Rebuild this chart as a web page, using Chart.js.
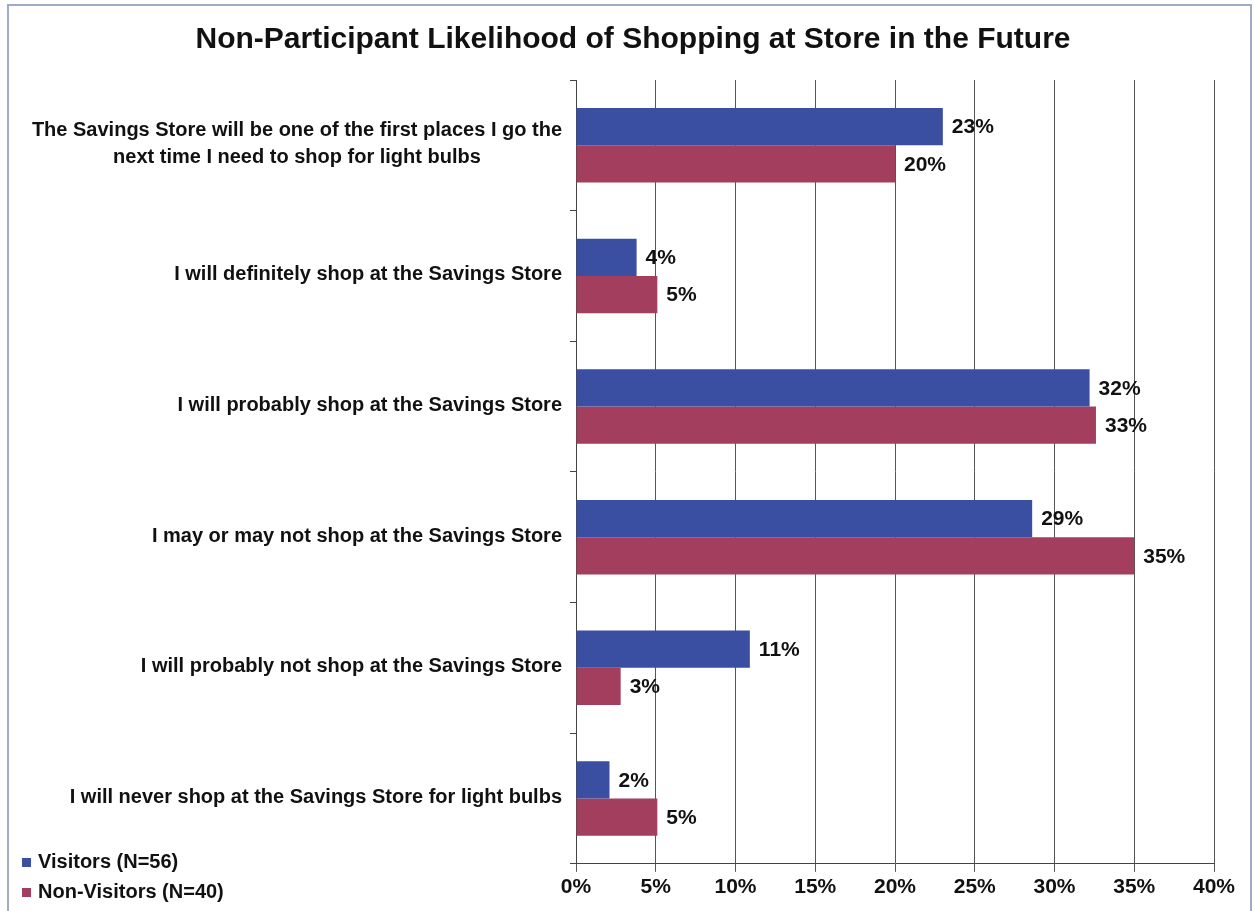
<!DOCTYPE html>
<html>
<head>
<meta charset="utf-8">
<title>Non-Participant Likelihood of Shopping at Store in the Future</title>
<script src="https://cdn.jsdelivr.net/npm/chart.js@4"></script>
<style>
    html, body { margin: 0; padding: 0; background: #ffffff; }
    #wrap { width: 1254px; height: 911px; position: relative; }
</style>
</head>
<body>
<div id="wrap"><canvas id="myChart" width="1254" height="911"></canvas></div>
<script>

var chartTitle = 'Non-Participant Likelihood of Shopping at Store in the Future';

var categories = [
    ['The Savings Store will be one of the first places I go the', 'next time I need to shop for light bulbs'],
    'I will definitely shop at the Savings Store',
    'I will probably shop at the Savings Store',
    'I may or may not shop at the Savings Store',
    'I will probably not shop at the Savings Store',
    'I will never shop at the Savings Store for light bulbs'
];

var seriesNames = ['Visitors (N=56)', 'Non-Visitors (N=40)'];
var visitors = [23.0, 3.8, 32.2, 28.6, 10.9, 2.1];
var nonVisitors = [20.0, 5.1, 32.6, 35.0, 2.8, 5.1];

var xTicks = [0, 5, 10, 15, 20, 25, 30, 35, 40];

var FONT = "'Liberation Sans', Arial, sans-serif";

// frame, title, category labels, legend and value labels
var decorations = {
    id: 'decorations',
    beforeDraw: function (chart) {
        var c = chart.ctx;
        c.save();
        c.fillStyle = '#ffffff';
        c.fillRect(0, 0, chart.width, chart.height);
        c.strokeStyle = '#9fabc9';
        c.lineWidth = 2;
        c.strokeRect(8, 5, chart.width - 11, chart.height - 4);
        c.restore();
    },
    afterDraw: function (chart) {
        var c = chart.ctx;
        var yScale = chart.scales.y;
        c.save();

        // title
        c.fillStyle = '#111111';
        c.font = 'bold 30px ' + FONT;
        c.textAlign = 'center';
        c.textBaseline = 'middle';
        c.fillText(chartTitle, 633, 40);

        // category labels
        c.font = 'bold 20px ' + FONT;
        var right = chart.chartArea.left - 14;
        categories.forEach(function (cat, i) {
            var lines = Array.isArray(cat) ? cat : [cat];
            var cy = yScale.getPixelForValue(i);
            var maxW = 0;
            lines.forEach(function (l) { maxW = Math.max(maxW, c.measureText(l).width); });
            var cx = right - maxW / 2;
            var lh = 27;
            var y0 = cy - (lines.length - 1) * lh / 2 - 1;
            c.textAlign = 'center';
            lines.forEach(function (l, k) {
                c.fillText(l, cx, y0 + k * lh);
            });
        });

        // value labels
        c.font = 'bold 21px ' + FONT;
        c.textAlign = 'left';
        chart.data.datasets.forEach(function (ds, di) {
            var meta = chart.getDatasetMeta(di);
            meta.data.forEach(function (bar, i) {
                c.fillText(Math.round(ds.data[i]) + '%', bar.x + 9, bar.y + 1);
            });
        });

        // legend
        c.font = 'bold 20px ' + FONT;
        var legendY = [862, 892];
        chart.data.datasets.forEach(function (ds, di) {
            c.fillStyle = ds.backgroundColor;
            c.fillRect(22, legendY[di] - 4, 9, 9);
            c.fillStyle = '#111111';
            c.fillText(ds.label, 38, legendY[di]);
        });

        c.restore();
    }
};

function onSight() {
    var ctx = document.getElementById('myChart').getContext('2d');

    var myChart = new Chart(ctx, {
        type: 'bar',
        data: {
            labels: categories,
            datasets: [{
                label: seriesNames[0],
                data: visitors,
                backgroundColor: '#3a4fa2',
                categoryPercentage: 0.57,
                barPercentage: 1.0
            }, {
                label: seriesNames[1],
                data: nonVisitors,
                backgroundColor: '#a33e5e',
                categoryPercentage: 0.57,
                barPercentage: 1.0
            }]
        },
        options: {
            indexAxis: 'y',
            responsive: false,
            animation: false,
            layout: {
                padding: { left: 570, right: 40, top: 80, bottom: 8 }
            },
            plugins: {
                legend: { display: false },
                title: { display: false },
                tooltip: { enabled: false }
            },
            scales: {
                x: {
                    min: 0,
                    max: 40,
                    afterBuildTicks: function (scale) {
                        scale.ticks = xTicks.map(function (v) { return { value: v }; });
                    },
                    ticks: {
                        callback: function (v) { return v + '%'; },
                        color: '#111111',
                        font: { family: FONT, size: 21, weight: 'bold' },
                        padding: 3
                    },
                    grid: {
                        color: '#555555',
                        lineWidth: 1,
                        tickLength: 8
                    },
                    border: { color: '#444444', width: 1 }
                },
                y: {
                    ticks: { display: false },
                    grid: {
                        offset: true,
                        drawOnChartArea: false,
                        color: '#444444',
                        tickLength: 6
                    },
                    border: { color: '#444444', width: 1 }
                }
            }
        },
        plugins: [decorations]
    });
}

document.addEventListener('DOMContentLoaded', onSight);
</script>
</body>
</html>
